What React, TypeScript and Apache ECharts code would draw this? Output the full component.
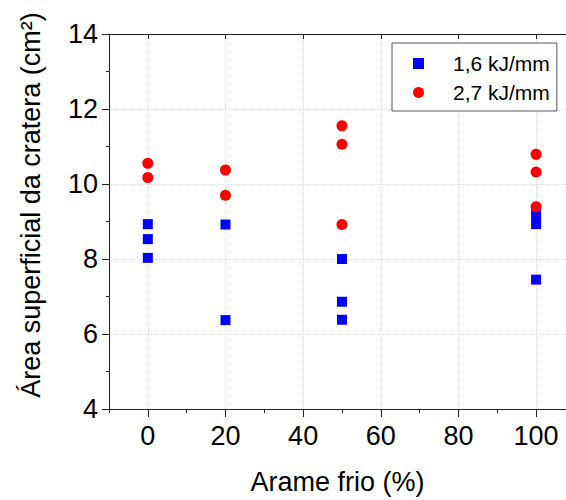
import React, { useEffect, useRef } from "react";
import * as echarts from "echarts";

// Cold-wire fraction (%) of each measurement
const wireLow = [0, 0, 0, 20, 20, 50, 50, 50, 100, 100, 100];
const areaLow = [8.93, 8.53, 8.03, 8.92, 6.37, 8.0, 6.86, 6.38, 9.18, 8.93, 7.45];

const wireHigh = [0, 0, 20, 20, 50, 50, 50, 100, 100, 100];
const areaHigh = [10.55, 10.17, 10.37, 9.7, 11.55, 11.06, 8.92, 10.79, 10.32, 9.39];

const seriesNames = ["1,6 kJ/mm", "2,7 kJ/mm"];
const xMajorTicks = [0, 20, 40, 60, 80, 100];
const xMinorTicks = [-10, 10, 30, 50, 70, 90];

// visible x range: the frame is cut at the right border
const X_MIN = -10;
const X_MAX = 107.7;

const FONT = "'Liberation Sans', Arial, sans-serif";
const AXIS_COLOR = "#222";

export default function App() {
  const ref = useRef<HTMLDivElement>(null);

  useEffect(() => {
    if (!ref.current) return;
    const chart = echarts.init(ref.current, null, { renderer: "svg" });

    const pairs = (xs: number[], ys: number[]) => xs.map((x, i) => [x, ys[i]]);

    chart.setOption({
      animation: false,
      backgroundColor: "#fff",
      textStyle: { fontFamily: FONT, color: "#000" },
      grid: { left: 109, top: 34, right: 0, bottom: 88, containLabel: false },
      legend: {
        orient: "vertical",
        left: 392,
        top: 43,
        padding: [10, 7, 8, 21],
        itemGap: 8,
        itemWidth: 11,
        itemHeight: 11,
        borderColor: "#555",
        borderWidth: 1,
        backgroundColor: "#fff",
        data: [
          { name: seriesNames[0], icon: "rect" },
          { name: seriesNames[1], icon: "circle" },
        ],
        textStyle: {
          fontFamily: FONT,
          fontSize: 21,
          color: "#000",
          padding: [0, 0, 0, 24],
        },
      },
      xAxis: [
        {
          type: "value",
          min: X_MIN,
          max: X_MAX,
          position: "bottom",
          name: "Arame frio (%)",
          nameLocation: "middle",
          nameGap: 59,
          nameTextStyle: { fontFamily: FONT, fontSize: 27, color: "#000" },
          axisLine: { show: true, onZero: false, lineStyle: { color: AXIS_COLOR, width: 1 } },
          axisTick: {
            show: true,
            inside: false,
            length: 8,
            customValues: xMajorTicks,
            lineStyle: { color: AXIS_COLOR },
          },
          axisLabel: {
            customValues: xMajorTicks,
            margin: 13,
            fontFamily: FONT,
            fontSize: 27,
            color: "#000",
          },
          splitLine: {
            show: true,
            lineStyle: { color: "#dcdcdc", type: "dotted", width: 1 },
          },
        },
        {
          // minor ticks along the bottom
          type: "value",
          min: X_MIN,
          max: X_MAX,
          position: "bottom",
          axisLine: { show: false, onZero: false },
          axisTick: {
            show: true,
            inside: false,
            length: 4,
            customValues: xMinorTicks,
            lineStyle: { color: AXIS_COLOR },
          },
          axisLabel: { show: false },
          splitLine: { show: false },
        },
        {
          // top frame with inward ticks
          type: "value",
          min: X_MIN,
          max: X_MAX,
          position: "top",
          axisLine: { show: true, onZero: false, lineStyle: { color: AXIS_COLOR, width: 1 } },
          axisTick: {
            show: true,
            inside: true,
            length: 5,
            customValues: xMajorTicks,
            lineStyle: { color: AXIS_COLOR },
          },
          axisLabel: { show: false },
          splitLine: { show: false },
        },
      ],
      yAxis: {
        type: "value",
        min: 4,
        max: 14,
        interval: 2,
        position: "left",
        axisLine: { show: true, onZero: false, lineStyle: { color: AXIS_COLOR, width: 1 } },
        axisTick: {
          show: true,
          inside: false,
          length: 7,
          lineStyle: { color: AXIS_COLOR },
        },
        minorTick: {
          show: true,
          splitNumber: 2,
          length: 3,
          lineStyle: { color: AXIS_COLOR },
        },
        axisLabel: {
          margin: 11,
          fontFamily: FONT,
          fontSize: 27,
          color: "#000",
        },
        splitLine: {
          show: true,
          lineStyle: { color: "#dcdcdc", type: "dotted", width: 1 },
        },
      },
      series: [
        {
          name: seriesNames[0],
          type: "scatter",
          xAxisIndex: 0,
          symbol: "rect",
          symbolSize: 10,
          itemStyle: { color: "#0000ff", opacity: 1 },
          data: pairs(wireLow, areaLow),
          z: 3,
        },
        {
          name: seriesNames[1],
          type: "scatter",
          xAxisIndex: 0,
          symbol: "circle",
          symbolSize: 11,
          itemStyle: { color: "#ff0000", opacity: 1 },
          data: pairs(wireHigh, areaHigh),
          z: 4,
        },
      ],
      graphic: [
        {
          type: "text",
          x: 31,
          y: 205,
          rotation: Math.PI / 2,
          style: {
            text: "Área superficial da cratera (cm²)",
            fontFamily: FONT,
            fontSize: 27,
            fill: "#000",
            align: "center",
            verticalAlign: "middle",
          },
        },
      ],
    });

    return () => chart.dispose();
  }, []);

  return (
    <div
      ref={ref}
      style={{ position: "fixed", left: 0, top: 0, width: 566, height: 500 }}
    />
  );
}
